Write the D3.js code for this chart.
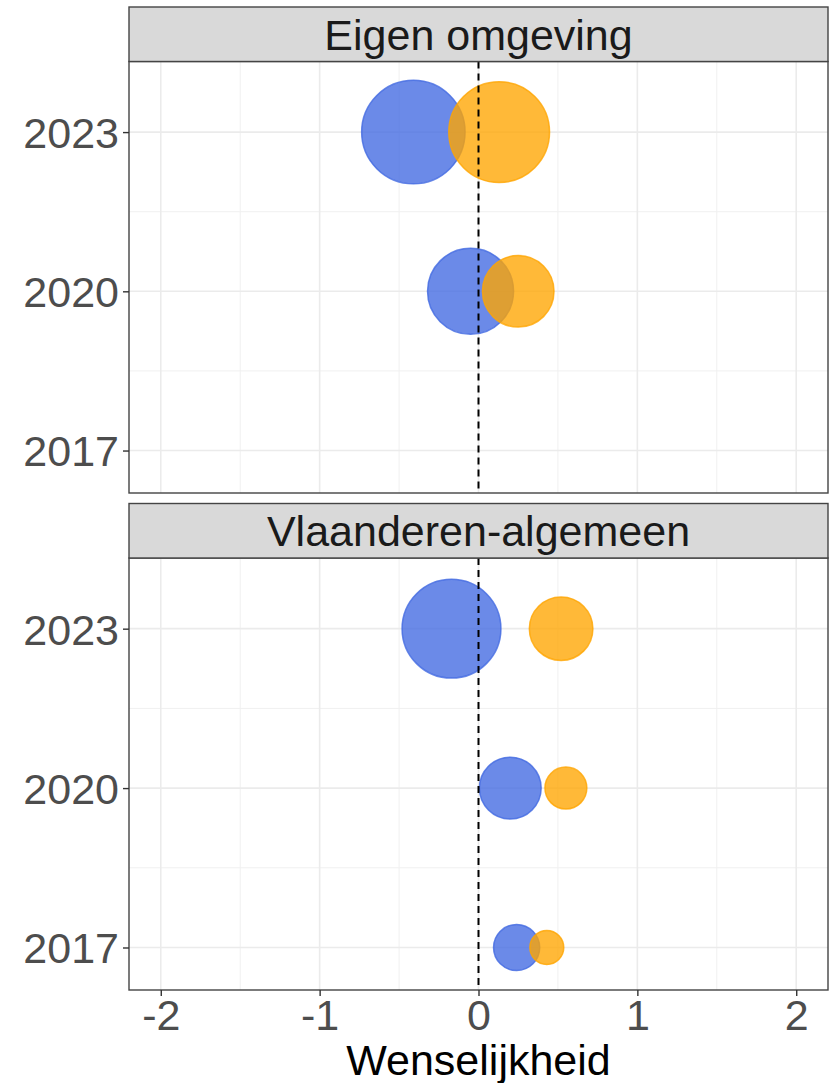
<!DOCTYPE html>
<html>
<head>
<meta charset="utf-8">
<script src="https://cdn.jsdelivr.net/npm/d3@7"></script>
<style>
  html, body { margin: 0; padding: 0; background: #fff; }
  svg { display: block; font-family: "Liberation Sans", Arial, sans-serif; }
</style>
</head>
<body>
<svg id="chart" width="836" height="1083"></svg>
<script>
// Facets, survey years and the two groups per year
const facets = ["Eigen omgeving", "Vlaanderen-algemeen"];
const years = [2017, 2020, 2023];
const xTicks = [-2, -1, 0, 1, 2];
const xMinor = [-1.5, -0.5, 0.5, 1.5];
const yMinor = [2018.5, 2021.5];

// Mean desirability (x) per facet and year; null = not measured
const blueValue = {
  "Eigen omgeving":      [null, -0.05, -0.41],
  "Vlaanderen-algemeen": [0.24, 0.20, -0.17]
};
const orangeValue = {
  "Eigen omgeving":      [null, 0.25, 0.13],
  "Vlaanderen-algemeen": [0.43, 0.55, 0.52]
};
// Share of respondents (bubble area)
const blueShare = {
  "Eigen omgeving":      [null, 43.8, 63.3],
  "Vlaanderen-algemeen": [12.6, 22.6, 57.8]
};
const orangeShare = {
  "Eigen omgeving":      [null, 30.3, 60.1],
  "Vlaanderen-algemeen": [6.8, 10.4, 23.9]
};

const seriesDefs = [
  { name: "blue",   color: "#4169E1", value: blueValue,   share: blueShare },
  { name: "orange", color: "#FFA500", value: orangeValue, share: orangeShare }
];

const svg = d3.select("#chart");

const left = 129, right = 828;
const panels = [
  { stripTop: 7,     top: 61.5, bottom: 493 },
  { stripTop: 503.5, top: 558,  bottom: 990 }
];

const x = d3.scaleLinear().domain([-2.2, 2.2]).range([left, right]);
const r = d3.scaleSqrt().domain([0, 100]).range([0, 65]);

const fontSize = 43;

facets.forEach((facet, i) => {
  const p = panels[i];
  const y = d3.scaleLinear().domain([2016.2, 2024.33]).range([p.bottom, p.top]);
  const g = svg.append("g");

  // panel background
  g.append("rect").attr("x", left).attr("y", p.top)
    .attr("width", right - left).attr("height", p.bottom - p.top)
    .attr("fill", "#fff");

  // minor grid
  g.selectAll(".vminor").data(xMinor).join("line")
    .attr("x1", d => x(d)).attr("x2", d => x(d))
    .attr("y1", p.top).attr("y2", p.bottom)
    .attr("stroke", "#f0f0f0").attr("stroke-width", 1);
  g.selectAll(".hminor").data(yMinor).join("line")
    .attr("y1", d => y(d)).attr("y2", d => y(d))
    .attr("x1", left).attr("x2", right)
    .attr("stroke", "#f0f0f0").attr("stroke-width", 1);
  // major grid
  g.selectAll(".vmajor").data(xTicks).join("line")
    .attr("x1", d => x(d)).attr("x2", d => x(d))
    .attr("y1", p.top).attr("y2", p.bottom)
    .attr("stroke", "#ebebeb").attr("stroke-width", 1.6);
  g.selectAll(".hmajor").data(years).join("line")
    .attr("y1", d => y(d)).attr("y2", d => y(d))
    .attr("x1", left).attr("x2", right)
    .attr("stroke", "#ebebeb").attr("stroke-width", 1.6);

  // bubbles
  seriesDefs.forEach(s => {
    const rows = years.map((yr, k) => ({
      year: yr, v: s.value[facet][k], share: s.share[facet][k]
    })).filter(d => d.v !== null);
    g.selectAll(".b-" + s.name).data(rows).join("circle")
      .attr("cx", d => x(d.v)).attr("cy", d => y(d.year))
      .attr("r", d => r(d.share))
      .attr("fill", s.color).attr("fill-opacity", 0.78)
      .attr("stroke", s.color).attr("stroke-opacity", 0.8)
      .attr("stroke-width", 1.5);
  });

  // reference line at 0
  g.append("line")
    .attr("x1", x(0)).attr("x2", x(0))
    .attr("y1", p.top).attr("y2", p.bottom)
    .attr("stroke", "#000").attr("stroke-width", 2)
    .attr("stroke-dasharray", "7,5");

  // panel border
  g.append("rect").attr("x", left).attr("y", p.top)
    .attr("width", right - left).attr("height", p.bottom - p.top)
    .attr("fill", "none").attr("stroke", "#444").attr("stroke-width", 1.4);

  // strip
  g.append("rect").attr("x", left).attr("y", p.stripTop)
    .attr("width", right - left).attr("height", p.top - p.stripTop)
    .attr("fill", "#d9d9d9").attr("stroke", "#444").attr("stroke-width", 1.4);
  g.append("text")
    .attr("x", (left + right) / 2)
    .attr("y", (p.stripTop + p.top) / 2 + fontSize * 0.358)
    .attr("text-anchor", "middle")
    .attr("font-size", fontSize).attr("fill", "#1a1a1a")
    .text(facet);

  // y axis
  const yAxis = d3.axisLeft(y).tickValues(years).tickFormat(d3.format("d"))
    .tickSize(6).tickPadding(4);
  const ya = g.append("g").attr("transform", `translate(${left},0)`).call(yAxis);
  ya.select(".domain").remove();
  ya.selectAll(".tick line").attr("stroke", "#333").attr("stroke-width", 1.4);
  ya.selectAll(".tick text")
    .attr("font-size", fontSize).attr("fill", "#4d4d4d")
    .attr("font-family", "Liberation Sans, Arial, sans-serif")
    .attr("dy", "0.358em");

  // x axis on bottom panel only
  if (i === facets.length - 1) {
    const xAxis = d3.axisBottom(x).tickValues(xTicks).tickFormat(d3.format("d"))
      .tickSize(6).tickPadding(4);
    const xa = g.append("g").attr("transform", `translate(0,${p.bottom})`).call(xAxis);
    xa.select(".domain").remove();
    xa.selectAll(".tick line").attr("stroke", "#333").attr("stroke-width", 1.4);
    xa.selectAll(".tick text")
      .attr("font-size", fontSize).attr("fill", "#4d4d4d")
      .attr("font-family", "Liberation Sans, Arial, sans-serif")
      .attr("dy", null).attr("y", 40)
      .text(d => d < 0 ? "-" + Math.abs(d) : String(d));
  }
});

// x-axis title
svg.append("text")
  .attr("x", (left + right) / 2)
  .attr("y", 1075)
  .attr("text-anchor", "middle")
  .attr("font-size", fontSize).attr("fill", "#000")
  .text("Wenselijkheid");
</script>
</body>
</html>
